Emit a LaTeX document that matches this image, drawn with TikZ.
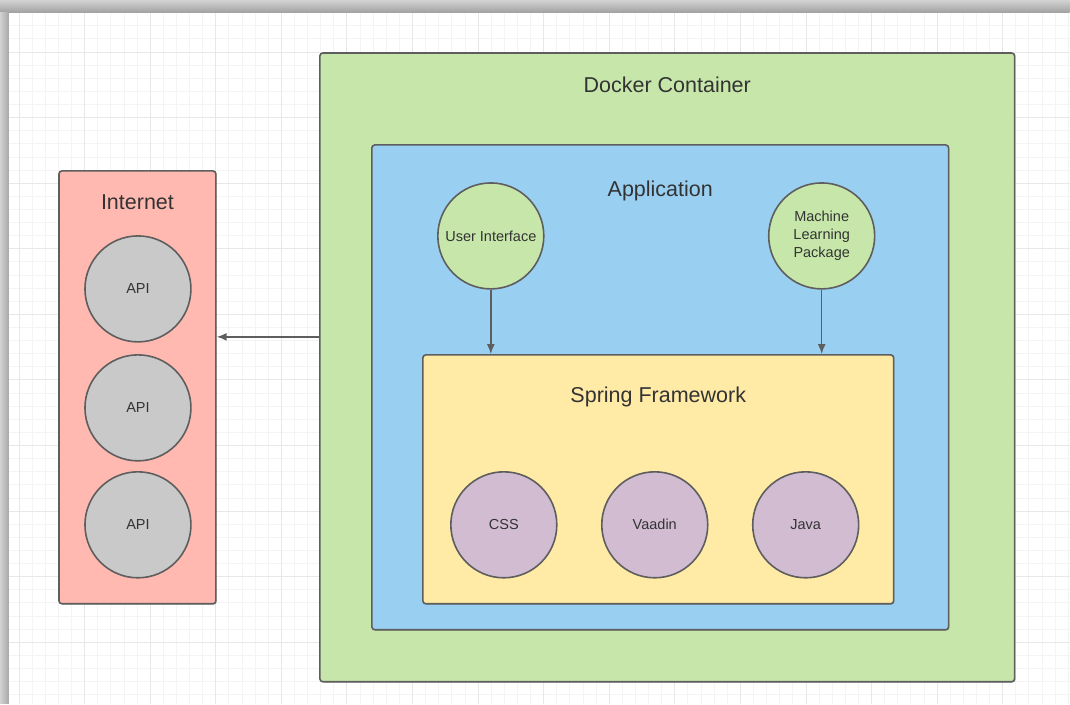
\documentclass[tikz,border=0pt]{standalone}
\usepackage{fontspec}
\setmainfont{Liberation Sans}
\usepackage{tikz}
\usetikzlibrary{positioning,calc,arrows.meta,shadows}

\definecolor{dockgreen}{HTML}{C7E7AA}
\definecolor{appblue}{HTML}{99D0F1}
\definecolor{springyellow}{HTML}{FFEAA6}
\definecolor{netred}{HTML}{FFB9B1}
\definecolor{apigray}{HTML}{C9C9C9}
\definecolor{libpurple}{HTML}{D1BCD2}
\definecolor{edgegray}{HTML}{5E5E5E}
\definecolor{textgray}{HTML}{333333}

\begin{document}
\begin{tikzpicture}[x=1pt, y=-1pt,
    container/.style={rectangle, rounded corners=3pt, draw=edgegray, line width=1.6pt, inner sep=0pt,
        drop shadow={shadow xshift=1pt, shadow yshift=-1pt, opacity=.3}},
    segment/.style={circle, draw=edgegray, line width=1.6pt, minimum size=106pt, inner sep=0pt,
        align=center, text=textgray, font=\fontsize{14.5}{18}\selectfont},
    title/.style={text=textgray, font=\fontsize{21.5}{26}\selectfont},
    arrow/.style={-{Latex[length=10pt,width=8pt]}, draw=edgegray, fill=edgegray, line width=1.5pt},
    minor/.style={draw=gray!9, line width=0.8pt},
    major/.style={draw=gray!18, line width=0.8pt}
]
    % page and its shadow
    \fill[white] (0,0) rectangle (1070,704);
    \shade[top color=gray!35, bottom color=gray!75] (0,0) rectangle (1070,13);
    \shade[left color=gray!35, right color=gray!70] (0,13) rectangle (9,704);

    % grid
    \foreach \i in {1,...,81} \draw[minor] ({5.88+13.12*\i},13) -- ++(0,691);
    \foreach \i in {1,...,52} \draw[minor] (9,{12.64+13.12*\i}) -- ++(1061,0);
    \foreach \i in {0,...,15} \draw[major] ({19+65.6*\i},13) -- ++(0,691);
    \foreach \i in {0,...,9} \draw[major] (9,{52+65.6*\i}) -- ++(1061,0);

    % boxes
    \node[container, fill=dockgreen, minimum width=695pt, minimum height=629pt] (dock) at (667.5,367.5) {};
    \node[container, fill=appblue, minimum width=577pt, minimum height=485pt] (app) at (660.5,387.5) {};
    \node[container, fill=springyellow, minimum width=471pt, minimum height=249pt] (spring) at (658.5,479.5) {};
    \node[container, fill=netred, minimum width=157pt, minimum height=433pt] (net) at (137.5,387.5) {};

    \node[title] (tdock) at ([yshift=-33pt]dock.north) {Docker Container};
    \node[title] (tapp) at ([yshift=-47pt]app.north) {Application};
    \node[title] (tspring) at ([yshift=-43pt]spring.north) {Spring Framework};
    \node[title] (tnet) at ([yshift=-32pt]net.north) {Internet};

    % circles
    \node[segment, fill=dockgreen] (ui) at (491,236) {User Interface};
    \node[segment, fill=dockgreen] (ml) at (822,236) {Machine\\Learning\\Package};

    \node[segment, fill=libpurple] (css) at (504,525) {CSS};
    \node[segment, fill=libpurple] (vaadin) at (655,525) {Vaadin};
    \node[segment, fill=libpurple] (java) at (806,525) {Java};

    \node[segment, fill=apigray] (api1) at (138,289) {API};
    \node[segment, fill=apigray] (api2) at (138,408) {API};
    \node[segment, fill=apigray] (api3) at (138,525) {API};

    % connectors
    \draw[arrow] (ui) -- (ui |- spring.north);
    \draw[arrow] (ml) -- (ml |- spring.north);
    \draw[arrow] ([yshift=30.5pt]dock.west) -- ([yshift=30.5pt]dock.west -| net.east);
\end{tikzpicture}
\end{document}
